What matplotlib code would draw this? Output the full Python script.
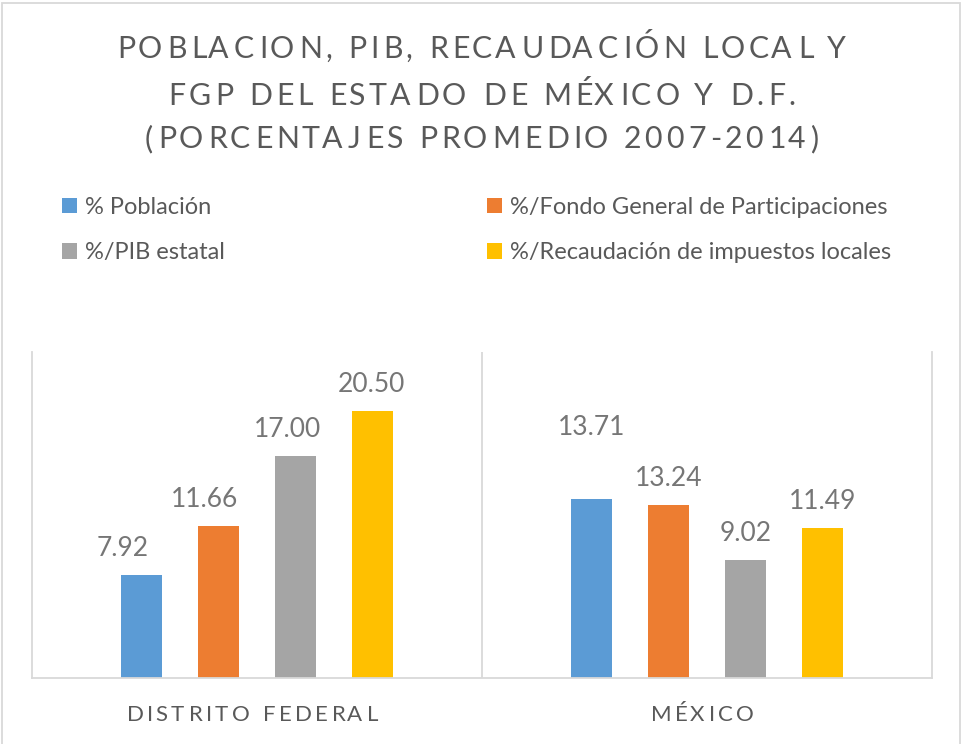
import numpy as np
import matplotlib
matplotlib.use("Agg")
import matplotlib.pyplot as plt
from matplotlib.patches import Rectangle
from matplotlib.font_manager import FontProperties, findfont, get_font
from matplotlib.transforms import IdentityTransform

# ── DATA ─────────────────────────────────────────────────────────────
categories   = ["DISTRITO FEDERAL", "MÉXICO"]
series_names = ["% Población",
                "%/Fondo General de Participaciones",
                "%/PIB estatal",
                "%/Recaudación de impuestos locales"]
poblacion    = [7.92, 13.71]
fgp          = [11.66, 13.24]
pib          = [17.00, 9.02]
recaudacion  = [20.50, 11.49]
title_lines  = ["POBLACION, PIB, RECAUDACIÓN LOCAL Y",
                "FGP DEL ESTADO DE MÉXICO Y D.F.",
                "(PORCENTAJES PROMEDIO 2007-2014)"]

# ── STYLE ────────────────────────────────────────────────────────────
W, H, DPI = 961, 744, 100
FONT   = "Lato"
COLORS = ["#5B9BD5", "#ED7D31", "#A5A5A5", "#FFC000"]
TEXT   = "#595959"
LABEL  = "#767676"
GRID   = "#D9D9D9"

# hand-moved data labels in the original (px): (series, category) -> (dx, dy)
LABEL_NUDGE = {(0, 0): (-19, 0), (1, 0): (-14, 0), (2, 0): (-8, 0),
               (3, 0): (-1, 0), (0, 1): (0, 45)}

fig = plt.figure(figsize=(W / DPI, H / DPI), dpi=DPI)


def tracked(x_px, y_px, s, size, track, color):
    """Letter-spaced text centred on x_px, baseline at y_px (px from top)."""
    fp = FontProperties(family=FONT, size=size)
    font = get_font(findfont(fp))
    font.set_size(size, DPI)
    glyphs = [font.load_char(ord(ch)) for ch in s]
    adv = np.array([g.linearHoriAdvance / 65536 for g in glyphs])
    pos = np.concatenate([[0], np.cumsum(adv[:-1] + track)])
    total = adv.sum() + track * (len(s) - 1)
    x0 = x_px - total / 2
    for ch, g, p in zip(s, glyphs, pos):
        if ch == " ":
            continue
        fig.text(x0 + p + g.horiBearingX / 64, H - y_px, ch,
                 fontproperties=fp, color=color, ha="left", va="baseline",
                 transform=IdentityTransform())


# ── AXES ─────────────────────────────────────────────────────────────
ax = fig.add_axes([32 / W, 1 - 678 / H, (932 - 32) / W, (678 - 352) / H])

x = np.arange(len(categories))
values = [poblacion, fgp, pib, recaudacion]
bar_w, step = 0.091, 0.171

bars = []
for i, (name, vals, c) in enumerate(zip(series_names, values, COLORS)):
    b = ax.bar(x + (i - 1.5) * step, vals, bar_w, color=c, label=name)
    bars.append(b)
    for j, rect in enumerate(b):
        dx, dy = LABEL_NUDGE.get((i, j), (0, 0))
        ax.annotate(f"{vals[j]:.2f}",
                    (rect.get_x() + rect.get_width() / 2, rect.get_height()),
                    xytext=(dx * 0.72, (19 + dy) * 0.72),
                    textcoords="offset points", ha="center", va="baseline",
                    fontsize=19, color=LABEL, family=FONT)

ax.set_xlim(-0.5, 1.5)
ax.set_ylim(0, 25)
ax.axvline(0.5, color=GRID, lw=1.3)
ax.spines["top"].set_visible(False)
for s in ["left", "right", "bottom"]:
    ax.spines[s].set_color(GRID)
    ax.spines[s].set_linewidth(1.3)
ax.set_xticks([])
ax.set_yticks([])

# category labels (Excel's trailing letter-space pulls them ~6px left)
for j, cat in enumerate(categories):
    cx = ax.transData.transform((j, 0))[0] - 6
    tracked(cx, 720.7, cat, 16, 3.4, TEXT)

# ── TITLE ────────────────────────────────────────────────────────────
for line, base in zip(title_lines, [58, 105, 148]):
    tracked(480, base, line, 21.8, 3.9, TEXT)

# ── LEGEND ───────────────────────────────────────────────────────────
fig.legend(handles=[bars[0], bars[2], bars[1], bars[3]], ncol=2,
           loc="upper left", bbox_to_anchor=(62 / W, 1 - 197 / H),
           frameon=False, prop=FontProperties(family=FONT, size=17),
           labelcolor=TEXT, handlelength=0.635, handleheight=0.635,
           handletextpad=0.33, columnspacing=11.1, labelspacing=1.02,
           borderaxespad=0, borderpad=0)

# chart border
fig.add_artist(Rectangle((2 / W, -0.01), (960 - 2) / W, 1 - 3 / H + 0.01,
                         transform=fig.transFigure, fill=False,
                         ec=GRID, lw=1.3))

fig.savefig("out.png", dpi=DPI)
